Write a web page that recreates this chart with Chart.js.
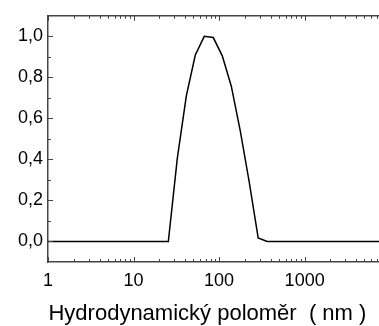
<!DOCTYPE html>
<html>
<head>
<meta charset="utf-8">
<script src="https://cdn.jsdelivr.net/npm/chart.js@4"></script>
<style>
  html, body { margin: 0; padding: 0; background: #fff; }
  #wrap { width: 379px; height: 326px; }
</style>
</head>
<body>
<div id="wrap"><canvas id="chart"></canvas></div>
<script>
// radius (nm) and normalised intensity
const radius = [1, 25.5, 32.5, 41.4, 52.7, 67.1, 85.5, 108.9, 138.7, 176.6, 224.9, 286.4, 364.8, 10000];
const intensity = [0, 0, 0.406, 0.71, 0.909, 1.0, 0.994, 0.905, 0.758, 0.54, 0.29, 0.017, 0, 0];

const xTicks = [1, 10, 100, 1000];
const yTicks = [0, 0.2, 0.4, 0.6, 0.8, 1.0];
const yMinor = [0.1, 0.3, 0.5, 0.7, 0.9];

const axisColor = "#444";
const family = "'Liberation Sans', Arial, sans-serif";

// draws the inward tick marks and the top frame line
const tickMarks = {
  id: "tickMarks",
  afterDraw(chart) {
    const { ctx, chartArea } = chart;
    const x = chart.scales.x;
    const y = chart.scales.y;
    ctx.save();
    ctx.strokeStyle = axisColor;
    ctx.lineWidth = 1.5;
    ctx.beginPath();
    ctx.moveTo(chartArea.left, chartArea.top);
    ctx.lineTo(chartArea.right, chartArea.top);
    ctx.stroke();

    ctx.lineWidth = 1;
    ctx.beginPath();
    yTicks.forEach((v) => {
      const py = Math.round(y.getPixelForValue(v)) + 0.5;
      ctx.moveTo(chartArea.left, py);
      ctx.lineTo(chartArea.left + 5, py);
    });
    yMinor.forEach((v) => {
      const py = Math.round(y.getPixelForValue(v)) + 0.5;
      ctx.moveTo(chartArea.left, py);
      ctx.lineTo(chartArea.left + 3, py);
    });
    const xs = [];
    xTicks.forEach((d) => {
      xs.push([d, 5]);
      for (let m = 2; m <= 9; m++) xs.push([d * m, 3]);
    });
    xs.forEach(([v, len]) => {
      const px = Math.round(x.getPixelForValue(v)) + 0.5;
      if (px > chartArea.right) return;
      ctx.moveTo(px, chartArea.bottom);
      ctx.lineTo(px, chartArea.bottom - len);
      ctx.moveTo(px, chartArea.top);
      ctx.lineTo(px, chartArea.top + len);
    });
    ctx.stroke();
    ctx.restore();
  },
};

new Chart(document.getElementById("chart"), {
  type: "line",
  data: {
    datasets: [
      {
        data: radius.map((r, i) => ({ x: r, y: intensity[i] })),
        borderColor: "#000",
        borderWidth: 1.5,
        pointRadius: 0,
        tension: 0,
      },
    ],
  },
  options: {
    responsive: true,
    maintainAspectRatio: false,
    animation: false,
    layout: { padding: { top: 12, right: 0, left: 0, bottom: 0 } },
    plugins: { legend: { display: false }, tooltip: { enabled: false } },
    scales: {
      x: {
        type: "logarithmic",
        min: 1,
        max: 7400,
        afterBuildTicks: (s) => { s.ticks = xTicks.map((v) => ({ value: v })); },
        afterFit: (s) => { s.height = 64; },
        grid: { display: false, drawTicks: false },
        border: { color: axisColor, width: 1.5 },
        ticks: {
          color: "#000",
          font: { family: family, size: 18 },
          padding: 8,
          maxRotation: 0,
          callback: (v) => String(v),
        },
        title: {
          display: true,
          text: "Hydrodynamický poloměr  ( nm )  ",
          color: "#000",
          font: { family: family, size: 22, lineHeight: 1.1 },
          padding: { top: 4, bottom: 0 },
        },
      },
      y: {
        min: -0.1,
        max: 1.1,
        afterBuildTicks: (s) => { s.ticks = yTicks.map((v) => ({ value: v })); },
        afterFit: (s) => { s.width = 48; },
        grid: { display: false, drawTicks: false },
        border: { color: axisColor, width: 1.5 },
        ticks: {
          color: "#000",
          font: { family: family, size: 18 },
          padding: 5,
          callback: (v) => v.toFixed(1).replace(".", ","),
        },
      },
    },
  },
  plugins: [tickMarks],
});
</script>
</body>
</html>
